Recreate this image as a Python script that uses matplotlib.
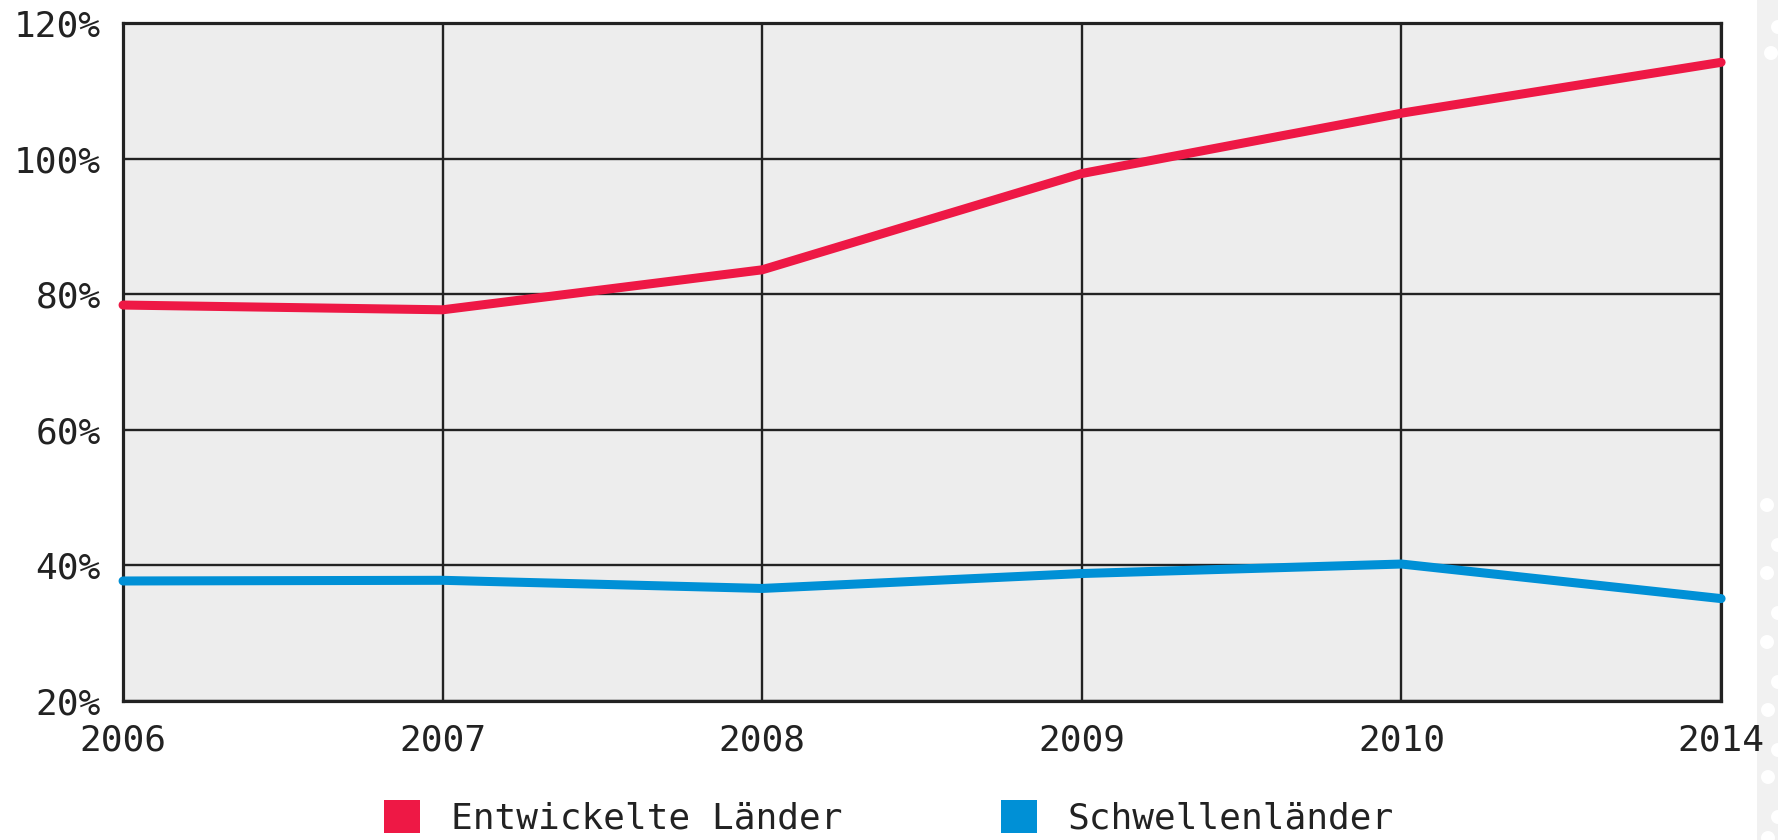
import matplotlib.pyplot as plt
from matplotlib.patches import Patch, Rectangle, Circle

plt.rcParams['font.family'] = 'DejaVu Sans Mono'

# Data: share in percent per year
years = ['2006', '2007', '2008', '2009', '2010', '2014']
entwickelt = [78.4, 77.7, 83.6, 97.8, 106.7, 114.2]
schwellen = [37.7, 37.8, 36.6, 38.8, 40.2, 35.1]
y_ticks = [20, 40, 60, 80, 100, 120]
series_names = ['Entwickelte Länder', 'Schwellenländer']

red = '#ee1845'
blue = '#0090d6'
ink = '#222222'

W, H = 1778, 840
fig = plt.figure(figsize=(W / 100, H / 100), dpi=100)
ax = fig.add_axes([0.0692, 0.1655, 0.8988, 0.8071])
ax.set_facecolor('#ededed')

x = list(range(len(years)))
ax.plot(x, entwickelt, color=red, lw=6.5, solid_capstyle='round',
        solid_joinstyle='round', clip_on=False, zorder=3)
ax.plot(x, schwellen, color=blue, lw=6.5, solid_capstyle='round',
        solid_joinstyle='round', clip_on=False, zorder=3)

ax.set_xlim(0, len(years) - 1)
ax.set_ylim(20, 120)
ax.set_xticks(x)
ax.set_xticklabels(years)
ax.set_yticks(y_ticks)
ax.set_yticklabels([f'{v}%' for v in y_ticks])
ax.tick_params(length=0, labelsize=26, colors=ink)
ax.tick_params(axis='y', pad=16)
ax.tick_params(axis='x', pad=16)
ax.grid(True, color=ink, lw=1.7)
ax.set_axisbelow(True)
for s in ax.spines.values():
    s.set_color(ink)
    s.set_linewidth(2.3)

# Legend below the plot
handles = [Patch(facecolor=red, edgecolor='none'),
           Patch(facecolor=blue, edgecolor='none')]
fig.legend(handles, series_names, loc='center', bbox_to_anchor=(0.5, 0.026),
           ncol=2, frameon=False, fontsize=26, handlelength=1.0,
           handleheight=1.0, handletextpad=0.85, columnspacing=4.4,
           labelcolor=ink)

# Decorative dotted strip at the right edge, kept behind the axes
fig.patches.append(Rectangle((1757 / W, 0), 21 / W, 1,
                             transform=fig.transFigure, facecolor='#f1f1f1',
                             edgecolor='none', zorder=-2))
dots = [(1771, 53), (1778, 27), (1767, 505), (1778, 545), (1767, 573),
        (1778, 613), (1767, 642), (1778, 682), (1768, 710), (1778, 750),
        (1768, 777), (1778, 817), (1768, 838)]
for dx, dy in dots:
    fig.patches.append(Circle((dx, H - dy), 7, transform=None,
                              facecolor='white', edgecolor='none', zorder=-1))

fig.savefig('out.png', dpi=100, facecolor='white')
